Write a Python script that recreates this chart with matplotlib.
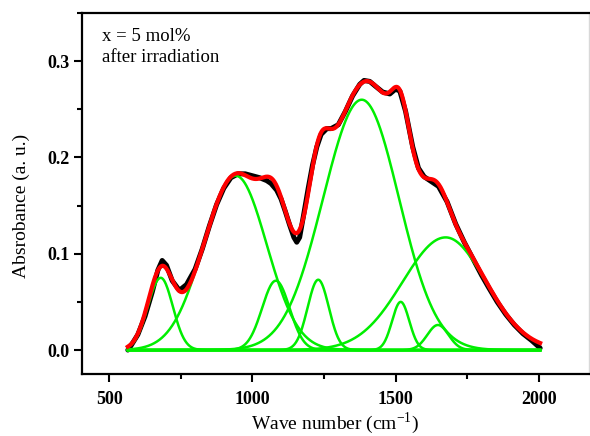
#!/usr/bin/env python
"""
Gaussian deconvolution of the IR absorbance spectrum (x = 5 mol%, after irradiation).
"""
import numpy as np
import matplotlib
matplotlib.use("Agg")
import matplotlib.pyplot as plt
from matplotlib.ticker import MultipleLocator, FormatStrFormatter

wave_measured = [565, 575, 600, 625, 650, 670, 685, 700, 720, 745, 770, 800, 825, 850,
                 875, 900, 925, 950, 975, 1000, 1025, 1050, 1065, 1085, 1100, 1115,
                 1130, 1145, 1155, 1165, 1180, 1195, 1210, 1225, 1240, 1260, 1275, 1300,
                 1325, 1350, 1375, 1390, 1410, 1430, 1455, 1480, 1500, 1515, 1535, 1560,
                 1580, 1600, 1620, 1650, 1680, 1710, 1740, 1770, 1800, 1825, 1855, 1885,
                 1915, 1945, 1975, 2005]
abs_measured = [0.000, 0.004, 0.016, 0.035, 0.060, 0.083, 0.093, 0.088, 0.072, 0.062,
                0.068, 0.084, 0.105, 0.129, 0.151, 0.168, 0.179, 0.183, 0.183, 0.181,
                0.179, 0.176, 0.173, 0.166, 0.157, 0.144, 0.130, 0.117, 0.112, 0.117,
                0.142, 0.168, 0.192, 0.211, 0.224, 0.230, 0.230, 0.234, 0.248, 0.264,
                0.276, 0.280, 0.279, 0.274, 0.268, 0.266, 0.271, 0.269, 0.248, 0.211,
                0.189, 0.180, 0.176, 0.170, 0.154, 0.131, 0.112, 0.095, 0.078, 0.065,
                0.050, 0.037, 0.026, 0.017, 0.010, 0.002]

# fitted gaussian components: centre, height, left / right width (cm-1)
peak_centre = [680, 942, 1082, 1230, 1382, 1518, 1648, 1675]
peak_height = [0.075, 0.181, 0.072, 0.073, 0.260, 0.050, 0.026, 0.117]
sigma_left = [45, 112, 48, 37, 135, 30, 37, 150]
sigma_right = [42, 108, 48, 37, 130, 30, 37, 140]

wave_start, wave_end = 565, 2005


def component(x, centre, height, s_left, s_right):
    s = np.where(x < centre, s_left, s_right)
    return height * np.exp(-(x - centre) ** 2 / (2.0 * s ** 2))


plt.rcParams["font.family"] = ["Liberation Serif", "DejaVu Serif"]
plt.rcParams["mathtext.fontset"] = "custom"
plt.rcParams["mathtext.rm"] = "Liberation Serif"

fig = plt.figure(figsize=(5.9, 4.36), dpi=100)
ax = fig.add_axes([0.139, 0.142, 0.859, 0.828])

x = np.linspace(wave_start, wave_end, 800)
components = [component(x, c, h, sl, sr)
              for c, h, sl, sr in zip(peak_centre, peak_height, sigma_left, sigma_right)]
fit = np.sum(components, axis=0)

green = "#00ee00"
ax.plot(wave_measured, abs_measured, color="black", lw=3.6, solid_capstyle="round", zorder=2)
for comp in components:
    ax.plot(x, comp, color=green, lw=1.8, zorder=3)
ax.plot([wave_start, wave_end], [0, 0], color=green, lw=1.8, zorder=3)
ax.plot(x, fit, color="#ff0000", lw=3.0, zorder=4)

ax.set_xlim(405, 2175)
ax.set_ylim(-0.025, 0.35)
ax.xaxis.set_major_locator(MultipleLocator(500))
ax.xaxis.set_minor_locator(MultipleLocator(250))
ax.yaxis.set_major_locator(MultipleLocator(0.1))
ax.yaxis.set_minor_locator(MultipleLocator(0.05))
ax.yaxis.set_major_formatter(FormatStrFormatter("%.1f"))

ax.tick_params(which="major", direction="out", length=6, width=1.5, labelsize=13)
ax.tick_params(axis="x", which="major", pad=6)
ax.tick_params(axis="y", which="major", pad=3)
ax.tick_params(which="minor", direction="out", length=3.5, width=1.5)
for lab in ax.get_xticklabels() + ax.get_yticklabels():
    lab.set_fontweight("bold")

for side in ["left", "bottom", "top"]:
    ax.spines[side].set_linewidth(1.6)
ax.spines["right"].set_color("#d8d8d8")
ax.spines["right"].set_linewidth(1.0)

ax.set_xlabel("Wave number (cm$^{-1}$)", fontsize=14, labelpad=2)
ax.set_ylabel("Absrobance (a. u.)", fontsize=14)
ax.yaxis.set_label_coords(-0.103, 0.467)

ax.text(0.039, 0.958, "x = 5 mol%\nafter irradiation", transform=ax.transAxes,
        fontsize=13.5, va="top", ha="left", linespacing=1.3)

fig.savefig("out.png", dpi=100)
plt.close(fig)
